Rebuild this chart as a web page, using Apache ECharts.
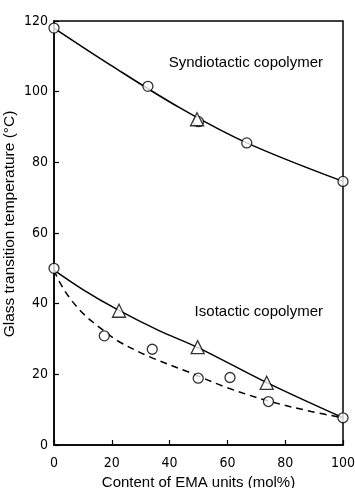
<!DOCTYPE html>
<html>
<head>
<meta charset="utf-8">
<script src="https://cdn.jsdelivr.net/npm/echarts@6/dist/echarts.min.js"></script>
<style>
  html, body { margin: 0; padding: 0; background: #fff; }
  #chart { width: 355px; height: 488px; }
</style>
</head>
<body>
<div id="chart"></div>
<script>
// Glass transition temperature vs. EMA content
const xTicks = [0, 20, 40, 60, 80, 100];
const yTicks = [0, 20, 40, 60, 80, 100, 120];

// measured points [mol% EMA, Tg °C]
const syndioCircles = [[0, 118], [32.5, 101.5], [50, 91.5], [66.7, 85.5], [100, 74.6]];
const syndioTriangles = [[49.5, 92.2]];
const isoTriangles = [[22.5, 38], [49.7, 27.7], [73.6, 17.6]];
const isoCircles = [[17.4, 30.9], [34, 27.1], [49.9, 18.9], [60.9, 19.1], [74.2, 12.3]];
const isoEnds = [[0, 50], [100, 7.7]];

// fitted curves drawn through the data
const syndioCurve = [[0, 118], [20, 107.3], [43.6, 95.4], [66.7, 85.5], [100, 74.6]];
const isoSolidCurve = [[0, 49.5], [10, 44], [22, 38.3], [36, 32.5], [50, 27.5], [74, 17.5], [100, 7.7]];
const isoDashedCurve = [[0, 49.5], [2, 46], [6, 41], [11, 36.5], [17, 32.5], [22, 29.5], [33, 25], [47, 20.5], [59, 16.5], [74, 12.5], [89, 9.5], [100, 7.7]];

const FONT = '"Liberation Sans Narrow", "DejaVu Sans Condensed", sans-serif';
const chart = echarts.init(document.getElementById('chart'), null, { renderer: 'canvas' });

const circleStyle = { color: '#fff', borderColor: '#000', borderWidth: 1.3 };

function curve(data, dashed) {
  return {
    type: 'line', data: data, smooth: 0.35, symbol: 'none', silent: true, z: 2,
    lineStyle: { color: '#000', width: 1.5, type: dashed ? [7, 5] : 'solid' }
  };
}
function marks(data, symbol, size) {
  return {
    type: 'scatter', data: data, symbol: symbol, symbolSize: size, z: 3,
    itemStyle: circleStyle
  };
}

chart.setOption({
  animation: false,
  backgroundColor: '#fff',
  grid: {
    left: 54, right: 12, top: 21, bottom: 43, outerBoundsMode: 'none', containLabel: false,
    show: true, borderColor: '#000', borderWidth: 1.5, backgroundColor: 'transparent'
  },
  xAxis: {
    type: 'value', min: 0, max: 100, interval: 20,
    name: 'Content of EMA units (mol%)', nameLocation: 'middle', nameGap: 30, nameMoveOverlap: false,
    nameTextStyle: { color: '#000', fontSize: 15, fontFamily: '"Liberation Sans", sans-serif' },
    axisLine: { lineStyle: { color: '#000', width: 1.5 } },
    axisTick: { inside: true, length: 5, lineStyle: { color: '#000', width: 1.2 } },
    axisLabel: { color: '#000', fontSize: 14, fontFamily: FONT, margin: 11,
      formatter: v => xTicks.includes(v) ? String(v) : '' },
    splitLine: { show: false }
  },
  yAxis: {
    type: 'value', min: 0, max: 120, interval: 20,
    name: 'Glass transition temperature (°C)', nameLocation: 'middle', nameGap: 36, nameMoveOverlap: false,
    nameTextStyle: { color: '#000', fontSize: 15.5, fontFamily: '"Liberation Sans", sans-serif', padding: [0, 0, 0, 18] },
    axisLine: { lineStyle: { color: '#000', width: 1.5 } },
    axisTick: { inside: true, length: 5, lineStyle: { color: '#000', width: 1.2 } },
    axisLabel: { color: '#000', fontSize: 14, fontFamily: FONT, margin: 6,
      formatter: v => yTicks.includes(v) ? String(v) : '' },
    splitLine: { show: false }
  },
  graphic: [
    { type: 'text', right: 32, top: 55, style: { text: 'Syndiotactic copolymer', fill: '#000', font: '15px "Liberation Sans Narrow", sans-serif' } },
    { type: 'text', right: 32, top: 304, style: { text: 'Isotactic copolymer', fill: '#000', font: '15px "Liberation Sans Narrow", sans-serif' } }
  ],
  series: [
    curve(syndioCurve, false),
    curve(isoSolidCurve, false),
    curve(isoDashedCurve, true),
    marks(syndioCircles, 'circle', 10),
    marks(syndioTriangles, 'triangle', 13),
    marks(isoTriangles, 'triangle', 13),
    marks(isoCircles, 'circle', 10),
    marks(isoEnds, 'circle', 10)
  ]
});
</script>
</body>
</html>
